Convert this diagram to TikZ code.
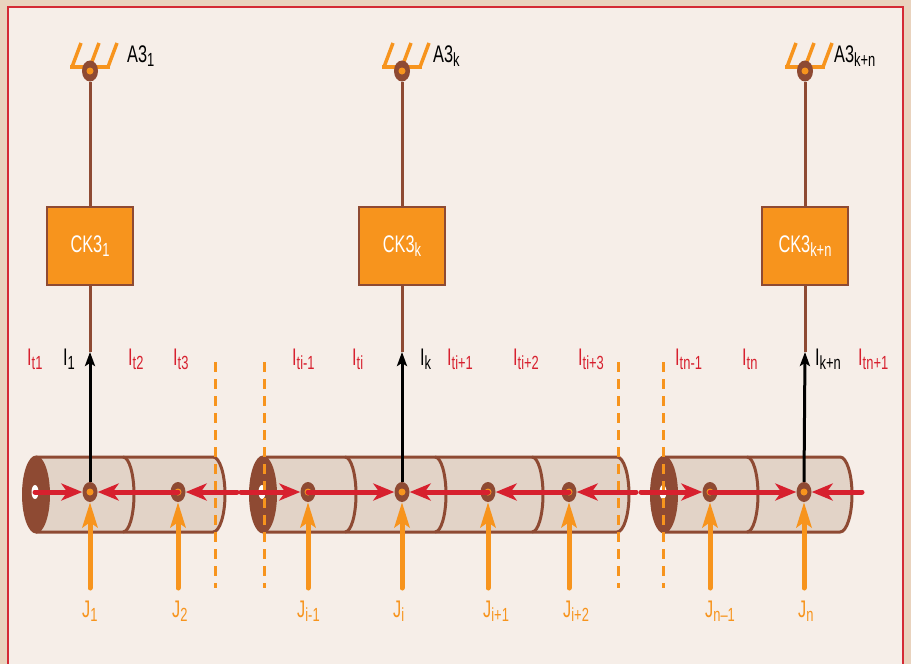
\documentclass[tikz,border=0pt]{standalone}
\usepackage{fontspec}
\setmainfont{Liberation Sans}[FakeStretch=0.68]
\usetikzlibrary{arrows.meta,shapes.geometric}

\definecolor{pageouter}{HTML}{E9D3BE}
\definecolor{pageinner}{HTML}{F6EEE8}
\definecolor{frame}{HTML}{D42A35}
\definecolor{rust}{HTML}{8E4A33}
\definecolor{amber}{HTML}{F7941D}
\definecolor{tube}{HTML}{E2D3C7}
\definecolor{flow}{HTML}{D7202E}

% label with a lowered index
\newcommand\idx[2]{#1\raisebox{-4.5pt}{\fontsize{19}{19}\selectfont #2}}

% cable section: left end x, right end x, list of joint positions
\newcommand\tubesection[3]{%
  \fill[tube] (#1,457) -- (#2,457) arc[start angle=-90,end angle=90,x radius=12,y radius=37.5] -- (#1,532) -- cycle;
  \draw[tubeline] (#1,457) -- (#2,457) arc[start angle=-90,end angle=90,x radius=12,y radius=37.5] -- (#1,532);
  \foreach \d in {#3} {\draw[tubeline] (\d,457) arc[start angle=-90,end angle=90,x radius=11,y radius=37.5];}
  \fill[rust] (#1,494.5) ellipse[x radius=14,y radius=39];
  \fill[white] (#1-1,492) ellipse[x radius=3.5,y radius=7];
}

% earthing symbol above a pole
\newcommand\earth[1]{%
  \draw[amber,line width=3.5] (#1-20,67) -- (#1+20,67);
  \foreach \o in {-18,0,18} {\draw[amber,line width=3.5] (#1+\o,67) -- (#1+\o+9,43);}
}

\begin{document}
\begin{tikzpicture}[x=1pt,y=-1pt,
  tubeline/.style={rust,line width=3},
  txt/.style={font=\fontsize{24}{26}\selectfont,inner sep=0pt,anchor=base west},
  redlbl/.style={txt,text=flow},
  blklbl/.style={txt,text=black},
  jlbl/.style={txt,text=amber},
  joint/.style={ellipse,fill=rust,minimum width=15pt,minimum height=20pt,inner sep=0pt},
  groundpt/.style={ellipse,fill=rust,minimum width=16pt,minimum height=21pt,inner sep=0pt},
  unit/.style={rectangle,fill=amber,draw=rust,line width=2.5,minimum width=86pt,minimum height=78pt,inner sep=0pt},
  unittext/.style={text=white,font=\fontsize{24}{26}\selectfont,inner sep=0pt},
  wire/.style={rust,line width=3},
  flowarrow/.style={flow,line width=5,line cap=round,-{Stealth[length=21pt,width=17pt,inset=6pt]}},
  feed/.style={amber,line width=5,line cap=round,-{Stealth[length=25pt,width=15pt,inset=5pt]}},
  up/.style={black,line width=3,-{Stealth[length=14pt,width=10pt,inset=3pt]}},
  sectionmark/.style={amber,line width=3,dash pattern=on 10pt off 7pt}
]
% page
\useasboundingbox (0,0) rectangle (911,664);
\fill[pageouter] (0,0) rectangle (911,664);
\fill[pageinner] (8,7) rectangle (903,670);
\draw[frame,line width=2.5] (8,670) -- (8,7) -- (903,7) -- (903,670);

% cable sections
\tubesection{36}{213}{123}
\tubesection{263}{617}{345,435,532}
\tubesection{664}{840}{747}

% section boundaries
\coordinate (s1t) at (215,362); \coordinate (s1b) at (215,588);
\coordinate (s2t) at (264,362); \coordinate (s2b) at (264,588);
\coordinate (s3t) at (618,362); \coordinate (s3b) at (618,588);
\coordinate (s4t) at (663,362); \coordinate (s4b) at (663,588);
\draw[sectionmark] (s1t) -- (s1b);
\draw[sectionmark] (s2t) -- (s2b);
\draw[sectionmark] (s3t) -- (s3b);
\draw[sectionmark] (s4t) -- (s4b);

% earthing points, units and pole wires
\foreach \cx/\nm in {90/1,402/k,805/n} {
  \earth{\cx}
  \node[groundpt] (g\nm) at (\cx,71) {};
  \fill[amber] (g\nm.center) circle (3.5);
  \node[unit] (u\nm) at (\cx,246) {};
  \coordinate (t\nm) at (\cx,352);
  \draw[wire] (g\nm.south) -- (u\nm.north);
  \draw[wire] (u\nm.south) -- (t\nm);
}
\node[unittext] at (u1) {\idx{CK3}{1}};
\node[unittext] at (uk) {\idx{CK3}{k}};
\node[unittext] at (un) {\idx{CK3}{k+n}};

% joints
\foreach \nm/\cx in {n1/90,n2/178,n3/308,n4/402,n5/488,n6/569,n7/710,n8/804} {
  \node[joint] (\nm) at (\cx,492) {};
  \fill[amber] (\nm.center) circle (3.5);
}

% currents along the sheath
\coordinate (h1) at (35,492);
\coordinate (r1) at (237,492);
\coordinate (l2) at (241,492);
\coordinate (r2) at (636,492);
\coordinate (l3) at (641,492);
\coordinate (r3) at (862,492);
\draw[flowarrow] (h1) -- (n1.west);
\draw[flowarrow] (n2.center) -- (n1.east);
\draw[flowarrow] (r1) -- (n2.east);
\draw[flowarrow] (l2) -- (n3.west);
\draw[flowarrow] (n3.center) -- (n4.west);
\draw[flowarrow] (n5.center) -- (n4.east);
\draw[flowarrow] (n6.center) -- (n5.east);
\draw[flowarrow] (r2) -- (n6.east);
\draw[flowarrow] (l3) -- (n7.west);
\draw[flowarrow] (n7.center) -- (n8.west);
\draw[flowarrow] (r3) -- (n8.east);

% currents to earth
\draw[up] (n1.north) -- (t1);
\draw[up] (n4.north) -- (tk);
\draw[up] (n8.north) -- (tn);

% injected currents
\foreach \nm/\cx in {n1/90,n2/178,n3/308,n4/402,n5/488,n6/569,n7/710,n8/804} {
  \coordinate (j\nm) at (\cx,588);
  \draw[feed] (j\nm) -- (\nm.south);
}

% earthing labels
\node[blklbl] (a1) at (127,62) {\idx{A3}{1}};
\node[blklbl] (ak) at (433,62) {\idx{A3}{k}};
\node[blklbl] (an) at (834,62) {\idx{A3}{k+n}};

% current labels
\node[redlbl] (it1) at (27,365) {\idx{I}{t1}};
\node[blklbl] (i1) at (63,365) {\idx{I}{1}};
\node[redlbl] (it2) at (128,365) {\idx{I}{t2}};
\node[redlbl] (it3) at (173,365) {\idx{I}{t3}};
\node[redlbl] (itim) at (292,365) {\idx{I}{ti-1}};
\node[redlbl] (iti) at (352,365) {\idx{I}{ti}};
\node[blklbl] (ik) at (420,365) {\idx{I}{k}};
\node[redlbl] (itip) at (447,365) {\idx{I}{ti+1}};
\node[redlbl] (itipp) at (513,365) {\idx{I}{ti+2}};
\node[redlbl] (itippp) at (578,365) {\idx{I}{ti+3}};
\node[redlbl] (itnm) at (675,365) {\idx{I}{tn-1}};
\node[redlbl] (itn) at (742,365) {\idx{I}{tn}};
\node[blklbl] (ikn) at (815,365) {\idx{I}{k+n}};
\node[redlbl] (itnp) at (858,365) {\idx{I}{tn+1}};

\node[jlbl] (J1) at (82,617) {\idx{J}{1}};
\node[jlbl] (J2) at (172,617) {\idx{J}{2}};
\node[jlbl] (Jim) at (297,617) {\idx{J}{i-1}};
\node[jlbl] (Ji) at (393,617) {\idx{J}{i}};
\node[jlbl] (Jip) at (483,617) {\idx{J}{i+1}};
\node[jlbl] (Jipp) at (563,617) {\idx{J}{i+2}};
\node[jlbl] (Jnm) at (705,617) {\idx{J}{n–1}};
\node[jlbl] (Jn) at (798,617) {\idx{J}{n}};
\end{tikzpicture}
\end{document}
